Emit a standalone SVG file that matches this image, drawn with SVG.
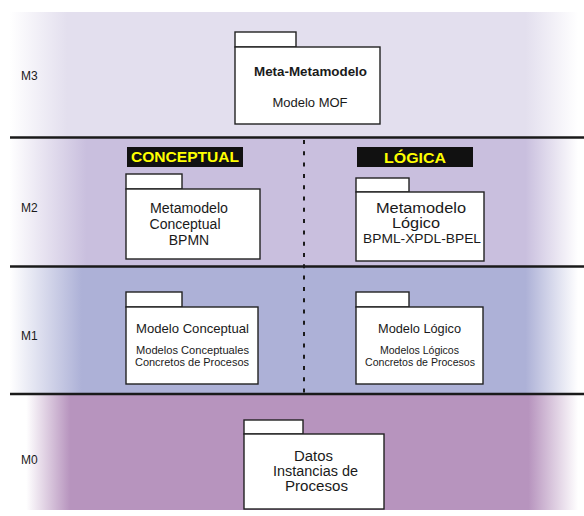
<svg xmlns="http://www.w3.org/2000/svg" width="584" height="516" viewBox="0 0 584 516">
<defs>
<linearGradient id="g3" gradientUnits="userSpaceOnUse" x1="0" y1="0" x2="584" y2="0">
<stop offset="0.017" stop-color="#ffffff"/><stop offset="0.115" stop-color="#e3dfee"/><stop offset="0.9" stop-color="#e3dfee"/><stop offset="0.99" stop-color="#ffffff"/>
</linearGradient>
<linearGradient id="g2" gradientUnits="userSpaceOnUse" x1="0" y1="0" x2="584" y2="0">
<stop offset="0.017" stop-color="#ffffff"/><stop offset="0.148" stop-color="#c9bfde"/><stop offset="0.9" stop-color="#c9bfde"/><stop offset="0.99" stop-color="#ffffff"/>
</linearGradient>
<linearGradient id="g1" gradientUnits="userSpaceOnUse" x1="0" y1="0" x2="584" y2="0">
<stop offset="0.017" stop-color="#ffffff"/><stop offset="0.14" stop-color="#adb1d7"/><stop offset="0.9" stop-color="#adb1d7"/><stop offset="0.99" stop-color="#ffffff"/>
</linearGradient>
<linearGradient id="g0" gradientUnits="userSpaceOnUse" x1="0" y1="0" x2="584" y2="0">
<stop offset="0.045" stop-color="#ffffff"/><stop offset="0.12" stop-color="#b794be"/><stop offset="0.905" stop-color="#b794be"/><stop offset="0.99" stop-color="#ffffff"/>
</linearGradient>
</defs>
<style>
.box{fill:#ffffff;stroke:#222222;stroke-width:1.4}
.sep{stroke:#1a1a1a;stroke-width:2.5}
.dash{stroke:#1a1a1a;stroke-width:2;stroke-dasharray:4 7.3}
text{font-family:"Liberation Sans",Arial,sans-serif;fill:#1a1a1a}
.lvl{font-size:12px}
.t14{font-size:14px;text-anchor:middle}
.t13{font-size:13px;text-anchor:middle}
.t11{font-size:11px;text-anchor:middle}
.bold{font-weight:bold}
.tag{fill:#111111}
.tagt{font-size:15px;font-weight:bold;fill:#ffff00;text-anchor:middle}
</style>
<g id="bands">
<rect x="0" y="12" width="584" height="125" fill="url(#g3)"/>
<rect x="0" y="137" width="584" height="130" fill="url(#g2)"/>
<rect x="0" y="267" width="584" height="127" fill="url(#g1)"/>
<rect x="0" y="394" width="584" height="116" fill="url(#g0)"/>
</g>
<g id="level-labels">
<text class="lvl" x="21" y="80">M3</text>
<text class="lvl" x="21" y="212">M2</text>
<text class="lvl" x="21" y="340">M1</text>
<text class="lvl" x="21" y="464">M0</text>
</g>
<g id="connectors">
<line class="sep" x1="10" y1="137.5" x2="584" y2="137.5"/>
<line class="sep" x1="10" y1="266.5" x2="584" y2="266.5"/>
<line class="sep" x1="10" y1="394" x2="584" y2="394"/>
<line class="dash" x1="304" y1="140" x2="304" y2="393"/>
</g>
<g id="tag-conceptual">
<rect class="tag" x="127" y="147" width="116" height="20"/>
<text class="tagt" x="185" y="162" textLength="108" lengthAdjust="spacingAndGlyphs">CONCEPTUAL</text>
</g>
<g id="tag-logica">
<rect class="tag" x="357" y="147" width="116" height="20"/>
<text class="tagt" x="415" y="162.5" textLength="62" lengthAdjust="spacingAndGlyphs">LÓGICA</text>
</g>
<g id="node-m3">
<rect class="box" x="235" y="32" width="61" height="15"/>
<rect class="box" x="235" y="47" width="145" height="77"/>
<text class="t13 bold" x="310.5" y="76" textLength="113" lengthAdjust="spacingAndGlyphs">Meta-Metamodelo</text>
<text class="t13" x="310" y="107">Modelo MOF</text>
</g>
<g id="node-m2-conceptual">
<rect class="box" x="126" y="174" width="56" height="15"/>
<rect class="box" x="126" y="189" width="134" height="70"/>
<text class="t14" x="189" y="213" textLength="78" lengthAdjust="spacingAndGlyphs">Metamodelo</text>
<text class="t14" x="185" y="229" textLength="71" lengthAdjust="spacingAndGlyphs">Conceptual</text>
<text class="t14" x="189" y="245">BPMN</text>
</g>
<g id="node-m2-logico">
<rect class="box" x="356" y="178" width="53" height="14"/>
<rect class="box" x="356" y="192" width="128" height="69"/>
<text class="t14" x="421" y="212.5" textLength="90" lengthAdjust="spacingAndGlyphs">Metamodelo</text>
<text class="t14" x="416" y="228" textLength="48" lengthAdjust="spacingAndGlyphs">Lógico</text>
<text class="t13" x="422" y="242.5" textLength="118" lengthAdjust="spacingAndGlyphs">BPML-XPDL-BPEL</text>
</g>
<g id="node-m1-conceptual">
<rect class="box" x="126" y="292" width="56" height="15"/>
<rect class="box" x="126" y="307" width="132" height="77"/>
<text class="t13" x="192.5" y="333" textLength="113" lengthAdjust="spacingAndGlyphs">Modelo Conceptual</text>
<text class="t11" x="192.5" y="354" textLength="113" lengthAdjust="spacingAndGlyphs">Modelos Conceptuales</text>
<text class="t11" x="192" y="366" textLength="114" lengthAdjust="spacingAndGlyphs">Concretos de Procesos</text>
</g>
<g id="node-m1-logico">
<rect class="box" x="356" y="292" width="53" height="15"/>
<rect class="box" x="356" y="307" width="127" height="77"/>
<text class="t13" x="419.5" y="333" textLength="83" lengthAdjust="spacingAndGlyphs">Modelo Lógico</text>
<text class="t11" x="419.5" y="354" textLength="79" lengthAdjust="spacingAndGlyphs">Modelos Lógicos</text>
<text class="t11" x="420" y="366" textLength="110" lengthAdjust="spacingAndGlyphs">Concretos de Procesos</text>
</g>
<g id="node-m0">
<rect class="box" x="244" y="420" width="59" height="14"/>
<rect class="box" x="244" y="434" width="140" height="75"/>
<text class="t14" x="313.5" y="461" textLength="39" lengthAdjust="spacingAndGlyphs">Datos</text>
<text class="t14" x="315.5" y="476" textLength="85" lengthAdjust="spacingAndGlyphs">Instancias de</text>
<text class="t14" x="316.5" y="491" textLength="63" lengthAdjust="spacingAndGlyphs">Procesos</text>
</g>
</svg>
